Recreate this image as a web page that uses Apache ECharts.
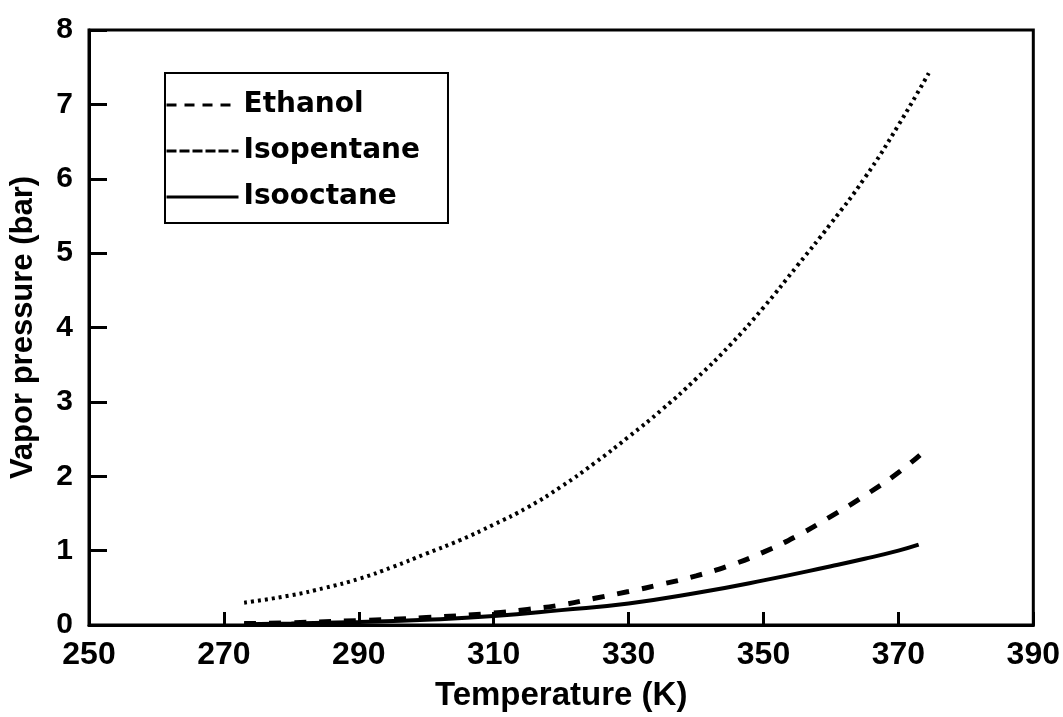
<!DOCTYPE html>
<html>
<head>
<meta charset="utf-8">
<script src="https://cdn.jsdelivr.net/npm/echarts@6/dist/echarts.min.js"></script>
<style>
html,body{margin:0;padding:0;background:#fff;}
#chart{width:1063px;height:717px;}
</style>
</head>
<body>
<div id="chart"></div>
<script>
// Data
const xTicks = [250, 270, 290, 310, 330, 350, 370, 390];
const yTicks = [0, 1, 2, 3, 4, 5, 6, 7, 8];
const seriesNames = ['Ethanol', 'Isopentane', 'Isooctane'];

const ethanolT = [273, 280, 290, 300, 310, 315, 320, 325, 330, 335, 340, 345, 350, 355, 360, 365, 370, 374];
const ethanolP = [0.02, 0.03, 0.06, 0.10, 0.16, 0.21, 0.27, 0.36, 0.45, 0.55, 0.66, 0.80, 0.98, 1.20, 1.46, 1.74, 2.05, 2.35];

const isopentaneT = [273, 280, 285, 290, 295, 300, 305, 310, 315, 320, 325, 330, 335, 340, 345, 350, 355, 360, 365, 370, 374.5];
const isopentaneP = [0.30, 0.40, 0.50, 0.62, 0.78, 0.96, 1.14, 1.35, 1.58, 1.86, 2.18, 2.53, 2.90, 3.31, 3.76, 4.27, 4.83, 5.40, 6.01, 6.72, 7.42];

const isooctaneT = [273, 280, 290, 300, 310, 320, 330, 340, 350, 360, 365, 370, 373];
const isooctaneP = [0.01, 0.02, 0.04, 0.07, 0.12, 0.20, 0.29, 0.43, 0.60, 0.79, 0.89, 1.00, 1.08];

function pairs(t, p) { return t.map((v, i) => [v, p[i]]); }

const FONT = '"Liberation Sans", Arial, sans-serif';
const LFONT = '"DejaVu Sans", sans-serif';
const chart = echarts.init(document.getElementById('chart'), null, {renderer: 'canvas'});
chart.setOption({
  animation: false,
  backgroundColor: '#fff',
  color: ['#000', '#000', '#000'],
  grid: {
    left: 89, right: 23, top: 30, bottom: 87,
    show: true, borderColor: '#000', borderWidth: 3, backgroundColor: 'transparent'
  },
  legend: {
    orient: 'vertical',
    left: 165, top: 73,
    padding: [18, 28, 12, 0],
    itemWidth: 72, itemHeight: 26, itemGap: 18,
    borderColor: '#000', borderWidth: 2,
    itemStyle: {opacity: 0},
    textStyle: {fontFamily: LFONT, fontWeight: 'bold', fontSize: 28, color: '#000'},
    data: [
      {name: 'Ethanol', itemStyle: {opacity: 0}, lineStyle: {type: [10, 8], width: 3, color: '#000'}},
      {name: 'Isopentane', itemStyle: {opacity: 0}, lineStyle: {type: [10, 3], width: 3, color: '#000'}},
      {name: 'Isooctane', itemStyle: {opacity: 0}, lineStyle: {type: 'solid', width: 3, color: '#000'}}
    ]
  },
  xAxis: {
    type: 'value', min: xTicks[0], max: xTicks[xTicks.length - 1], interval: 20,
    name: 'Temperature (K)', nameLocation: 'middle', nameGap: 54,
    nameTextStyle: {fontFamily: FONT, fontWeight: 'bold', fontSize: 33, color: '#000'},
    axisLine: {show: true, lineStyle: {color: '#000', width: 3}},
    axisTick: {show: true, inside: true, length: 13, lineStyle: {color: '#000', width: 3}},
    axisLabel: {fontFamily: FONT, fontWeight: 'bold', fontSize: 32, color: '#000', margin: 14},
    splitLine: {show: false}
  },
  yAxis: {
    type: 'value', min: yTicks[0], max: yTicks[yTicks.length - 1], interval: 1,
    name: 'Vapor pressure (bar)', nameLocation: 'middle', nameGap: 50,
    nameTextStyle: {fontFamily: FONT, fontWeight: 'bold', fontSize: 31, color: '#000'},
    axisLine: {show: true, lineStyle: {color: '#000', width: 3}},
    axisTick: {show: true, inside: true, length: 18, lineStyle: {color: '#000', width: 3}},
    axisLabel: {fontFamily: FONT, fontWeight: 'bold', fontSize: 30, color: '#000', margin: 16},
    splitLine: {show: false}
  },
  series: [
    {name: seriesNames[0], type: 'line', smooth: true, showSymbol: false, symbol: 'none',
     data: pairs(ethanolT, ethanolP), lineStyle: {color: '#000', width: 5, type: [12, 13]}},
    {name: seriesNames[1], type: 'line', smooth: true, showSymbol: false, symbol: 'none',
     data: pairs(isopentaneT, isopentaneP), lineStyle: {color: '#000', width: 4, type: [3, 4]}},
    {name: seriesNames[2], type: 'line', smooth: true, showSymbol: false, symbol: 'none',
     data: pairs(isooctaneT, isooctaneP), lineStyle: {color: '#000', width: 4, type: 'solid'}}
  ]
});
</script>
</body>
</html>
